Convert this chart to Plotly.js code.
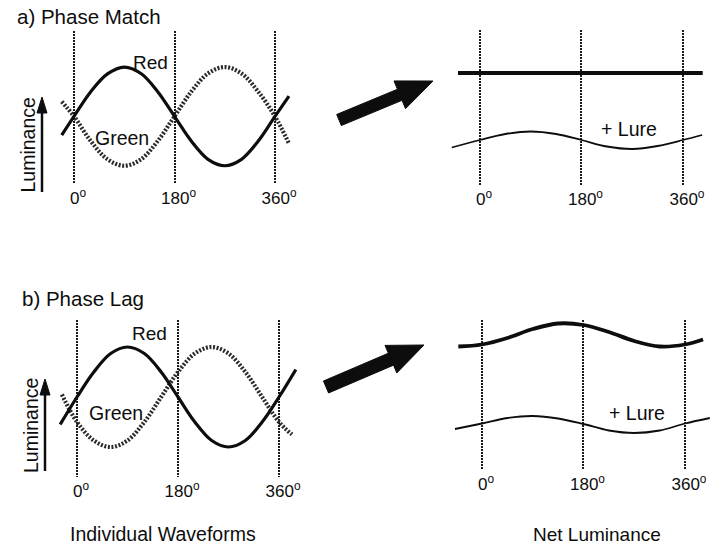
<!DOCTYPE html>
<html>
<head>
<meta charset="utf-8">
<script src="https://cdn.plot.ly/plotly-3.0.1.min.js"></script>
<style>html,body{margin:0;padding:0;background:#fff;}#chart{width:715px;height:546px;}</style>
</head>
<body>
<div id="chart"></div>
<script>
// ---- Data (phase in degrees, luminance in relative units) ----
var tickDegrees = [0, 180, 360];
var tickLabels = ["0<sup>o</sup>", "180<sup>o</sup>", "360<sup>o</sup>"];

// a) Phase Match - individual waveforms
var matchDeg   = [-22, 0, 30, 60, 90, 120, 150, 180, 210, 240, 270, 300, 330, 360, 385];
var matchRed   = [-0.38, 0, 0.5, 0.86, 1.0, 0.87, 0.5, 0, -0.5, -0.87, -1.0, -0.87, -0.5, 0, 0.41];
var matchGreen = [0.3, 0, -0.5, -0.87, -1.0, -0.87, -0.5, 0, 0.5, 0.87, 1.0, 0.87, 0.5, 0, -0.55];

// a) Phase Match - net luminance
var matchNetDeg  = [-39, 0, 90, 180, 270, 360, 395];
var matchNet     = [6.7, 6.7, 6.7, 6.7, 6.7, 6.7, 6.7];
var matchLureDeg = [-50, 0, 45, 90, 135, 180, 225, 270, 315, 360, 394];
var matchLure    = [-0.75, 0, 0.6, 0.85, 0.6, 0, -0.65, -0.9, -0.6, 0, 0.5];

// b) Phase Lag - individual waveforms
var lagRedDeg   = [-30, 0, 30, 60, 90, 120, 150, 180, 210, 240, 270, 300, 330, 360, 390];
var lagRed      = [-0.55, 0, 0.5, 0.87, 1.0, 0.87, 0.5, 0, -0.5, -0.87, -1.0, -0.87, -0.5, 0, 0.55];
var lagGreenDeg = [-27, 0, 30, 60, 90, 120, 150, 180, 210, 240, 270, 300, 330, 360, 383];
var lagGreen    = [0.05, -0.5, -0.87, -1.0, -0.87, -0.5, 0, 0.5, 0.87, 1.0, 0.87, 0.5, 0, -0.5, -0.75];

// b) Phase Lag - net luminance
var lagNetDeg  = [-42, 0, 45, 90, 135, 180, 225, 270, 315, 360, 392];
var lagNet     = [7.8, 8.0, 8.65, 9.55, 10.1, 9.95, 9.25, 8.35, 7.8, 8.0, 8.5];
var lagLureDeg = [-48, 0, 45, 90, 135, 180, 225, 270, 315, 360, 404];
var lagLure    = [-0.45, 0.1, 0.65, 0.85, 0.6, 0.05, -0.6, -0.85, -0.6, 0.1, 0.65];

// ---- Layout geometry (pixels) ----
var W = 715, H = 546;
function px(x){ return x / W; }
function py(y){ return 1 - y / H; }

// panel: pixel of 0 deg, pixels per deg, degree range, top/bottom pixels, value range
var panels = [
  {o: 74,  s: 201/360, r: [-25, 390], top: 31,  bot: 184, yr: [-1.37, 1.73]},
  {o: 480, s: 203/360, r: [-52, 398], top: 30,  bot: 185, yr: [-4.5, 11]},
  {o: 77,  s: 202/360, r: [-32, 392], top: 320, bot: 477, yr: [-1.6, 1.54]},
  {o: 482, s: 203/360, r: [-52, 406], top: 320, bot: 470, yr: [-4.55, 10.45]}
];

var INK = '#0d0d0d';
var layout = {
  width: W, height: H,
  margin: {l: 0, r: 0, t: 0, b: 0},
  paper_bgcolor: '#ffffff', plot_bgcolor: 'rgba(0,0,0,0)',
  showlegend: false,
  font: {family: 'Liberation Sans, Arial, sans-serif', color: INK},
  annotations: [], shapes: []
};

panels.forEach(function(p, i){
  var n = i === 0 ? '' : String(i + 1);
  layout['xaxis' + n] = {
    domain: [px(p.o + p.r[0]*p.s), px(p.o + p.r[1]*p.s)],
    range: p.r, anchor: 'y' + n,
    tickmode: 'array', tickvals: tickDegrees, ticktext: tickLabels,
    showgrid: true, gridcolor: '#1a1a1a', gridwidth: 2, griddash: '1.5px,1.5px',
    zeroline: false, showline: false, ticks: '',
    tickfont: {size: 17, color: INK}, ticklabelshift: 4, ticklabelstandoff: 2,
    fixedrange: true
  };
  layout['yaxis' + n] = {
    domain: [py(p.bot), py(p.top)], range: p.yr, anchor: 'x' + n,
    visible: false, showgrid: false, zeroline: false, fixedrange: true
  };
});

function trace(x, y, ax, width, dash, color){
  return {x: x, y: y, xaxis: 'x' + ax, yaxis: 'y' + ax, mode: 'lines', hoverinfo: 'skip',
          line: {color: color || INK, width: width, dash: dash || 'solid', shape: 'spline', smoothing: 1}};
}
var data = [
  trace(matchDeg, matchGreen, '', 4.2, '2px,1.6px', '#2b2b2b'),
  trace(matchDeg, matchRed, '', 3.2),
  trace(matchNetDeg, matchNet, '2', 3.8),
  trace(matchLureDeg, matchLure, '2', 1.8),
  trace(lagGreenDeg, lagGreen, '3', 4.2, '2px,1.6px', '#2b2b2b'),
  trace(lagRedDeg, lagRed, '3', 3.2),
  trace(lagNetDeg, lagNet, '4', 3.8),
  trace(lagLureDeg, lagLure, '4', 1.8)
];

function note(text, x, y, size, opts){
  var a = {text: text, x: px(x), y: py(y), xref: 'paper', yref: 'paper', showarrow: false,
           xanchor: 'center', yanchor: 'middle', font: {size: size, color: INK}};
  for (var k in (opts || {})) a[k] = opts[k];
  layout.annotations.push(a);
}
note('a) Phase Match', 15, 16, 20.5, {xanchor: 'left'});
note('b) Phase Lag', 20, 298, 20.5, {xanchor: 'left'});
note('Red', 150, 62, 19);
note('Green', 122, 138, 19.5);
note('Red', 149, 333, 19);
note('Green', 116, 413, 19.5);
note('+ Lure', 629, 129, 19.5);
note('+ Lure', 637, 413, 19.5);
note('Luminance', 27.5, 145, 19.5, {textangle: -90});
note('Luminance', 31, 425, 19.5, {textangle: -90});
note('Individual Waveforms', 163, 534, 19.5);
note('Net Luminance', 597, 534, 19);

// big block arrows
function blockArrow(tx, ty, hx, hy, sw, hw, hl){
  var dx = hx - tx, dy = hy - ty, L = Math.sqrt(dx*dx + dy*dy);
  var ux = dx/L, uy = dy/L, nx = -uy, ny = ux;
  var bx = hx - ux*hl, by = hy - uy*hl;
  var pts = [
    [tx + nx*sw/2, ty + ny*sw/2], [bx + nx*sw/2, by + ny*sw/2], [bx + nx*hw/2, by + ny*hw/2],
    [hx, hy],
    [bx - nx*hw/2, by - ny*hw/2], [bx - nx*sw/2, by - ny*sw/2], [tx - nx*sw/2, ty - ny*sw/2]
  ];
  var d = pts.map(function(p, i){ return (i ? 'L' : 'M') + px(p[0]) + ',' + py(p[1]); }).join(' ') + ' Z';
  layout.shapes.push({type: 'path', path: d, xref: 'paper', yref: 'paper',
                      fillcolor: INK, line: {color: INK, width: 1}});
}
blockArrow(339, 120, 433, 81, 12, 30, 36);
blockArrow(326, 387, 424, 345, 13, 30, 36);

// small luminance arrows
function upArrow(x, y0, y1){
  layout.shapes.push({type: 'line', xref: 'paper', yref: 'paper',
    x0: px(x), x1: px(x), y0: py(y0), y1: py(y1 + 12), line: {color: INK, width: 2.5}});
  layout.shapes.push({type: 'path', xref: 'paper', yref: 'paper', fillcolor: INK,
    line: {color: INK, width: 1},
    path: 'M' + px(x) + ',' + py(y1) + ' L' + px(x - 5) + ',' + py(y1 + 16) +
          ' L' + px(x + 5) + ',' + py(y1 + 16) + ' Z'});
}
upArrow(42, 192, 97);
upArrow(45, 471, 379);

Plotly.newPlot('chart', data, layout, {staticPlot: true, displayModeBar: false});
</script>
</body>
</html>
